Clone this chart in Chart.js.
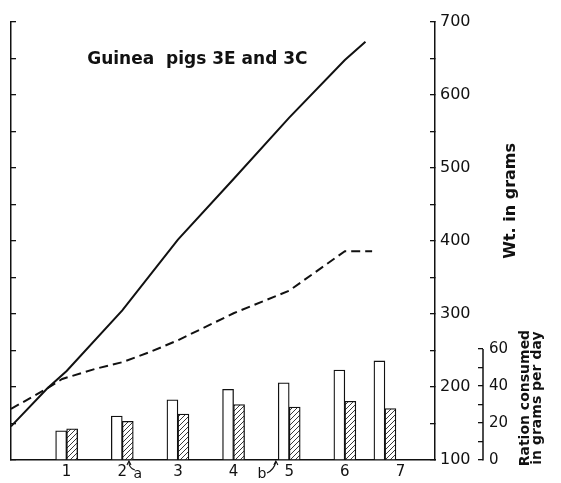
<!DOCTYPE html>
<html>
<head>
<meta charset="utf-8">
<script src="https://cdn.jsdelivr.net/npm/chart.js@4"></script>
<style>
  html, body { margin: 0; padding: 0; background: #fff; }
  #wrap { width: 561px; height: 483px; }
</style>
</head>
<body>
<div id="wrap"><canvas id="chart" width="561" height="483"></canvas></div>
<script>
// weeks on the x axis
const weekTicks = [1, 2, 3, 4, 5, 6, 7];
const barWeeks = [1, 2, 3, 4, 5, 6, 6.72];

// ration consumed, grams per day (open = 3E, hatched = 3C)
const ration3E = [15.8, 23.8, 32.6, 38.2, 41.8, 48.7, 53.6];
const ration3C = [16.9, 20.9, 24.9, 30.0, 28.7, 31.8, 27.8];

// body weight, grams
const solidWeeks = [0, 0.65, 1, 2, 3, 4, 5, 6, 6.37];
const solidWt = [146, 198, 222, 305, 402, 485, 569, 648, 673];
const dashedWeeks = [0, 0.65, 0.92, 1.52, 2, 2.5, 3, 4, 5, 6, 6.49];
const dashedWt = [170, 198, 211, 225, 234, 248, 264, 301, 332, 386, 386];

const wtTicks = [100, 150, 200, 250, 300, 350, 400, 450, 500, 550, 600, 650, 700];
const rationTicks = [0, 10, 20, 30, 40, 50, 60];

const noteLabels = ['a', 'b'];
const noteAt = [2.28, 4.51];
const noteArrow = [2.12, 4.76];

const pts = (xs, ys) => xs.map((x, i) => ({ x: x, y: ys[i] }));

function hatch() {
    const c = document.createElement('canvas');
    c.width = 5; c.height = 5;
    const g = c.getContext('2d');
    g.fillStyle = '#fff';
    g.fillRect(0, 0, 5, 5);
    g.strokeStyle = '#222';
    g.lineWidth = 0.9;
    g.beginPath();
    g.moveTo(0, 5); g.lineTo(5, 0);
    g.moveTo(-1, 1); g.lineTo(1, -1);
    g.moveTo(4, 6); g.lineTo(6, 4);
    g.stroke();
    return g.createPattern(c, 'repeat');
}

function vtext(ctx, str, cx, cy) {
    ctx.save();
    ctx.translate(cx, cy);
    ctx.rotate(-Math.PI / 2);
    ctx.fillText(str, 0, 0);
    ctx.restore();
}

const extras = {
    id: 'extras',
    afterDraw(chart) {
        const { ctx } = chart;
        const { x, y, y2 } = chart.scales;
        ctx.save();
        ctx.fillStyle = '#111';
        ctx.strokeStyle = '#111';

        // ration axis only runs 0..60
        ctx.lineWidth = 1.5;
        ctx.beginPath();
        ctx.moveTo(Math.round(y2.left), y2.getPixelForValue(0) + 0.5);
        ctx.lineTo(Math.round(y2.left), y2.getPixelForValue(60));
        ctx.stroke();

        ctx.textAlign = 'center';
        ctx.textBaseline = 'middle';
        ctx.font = 'bold 17px "DejaVu Sans"';
        ctx.fillText('Guinea  pigs 3E and 3C', x.getPixelForValue(3.35), y.getPixelForValue(648));

        ctx.font = 'bold 16px "DejaVu Sans"';
        vtext(ctx, 'Wt. in grams', y2.left + 28, y.getPixelForValue(455));
        ctx.font = 'bold 14px "DejaVu Sans"';
        vtext(ctx, 'Ration consumed', y2.left + 42, y2.getPixelForValue(33.5));
        vtext(ctx, 'in grams per day', y2.left + 54, y2.getPixelForValue(33.5));

        // a / b markers under the axis
        const base = y.getPixelForValue(100);
        ctx.font = '14px "DejaVu Sans"';
        ctx.lineWidth = 1.1;
        noteLabels.forEach((lab, i) => {
            const tx = x.getPixelForValue(noteAt[i]);
            const ax = x.getPixelForValue(noteArrow[i]);
            ctx.fillText(lab, tx, base + 14);
            ctx.beginPath();
            if (ax < tx) {
                ctx.moveTo(tx - 3, base + 10);
                ctx.quadraticCurveTo(ax, base + 8, ax, base + 2);
            } else {
                ctx.moveTo(tx + 5, base + 13);
                ctx.quadraticCurveTo(ax - 2, base + 10, ax, base + 2);
            }
            ctx.stroke();
            ctx.beginPath();
            ctx.moveTo(ax - 2, base + 5);
            ctx.lineTo(ax, base + 1);
            ctx.lineTo(ax + 2, base + 5);
            ctx.stroke();
        });
        ctx.restore();
    }
};

Chart.defaults.font.family = '"DejaVu Sans"';
Chart.defaults.color = '#111';

const ctx = document.getElementById('chart').getContext('2d');
new Chart(ctx, {
    type: 'bar',
    data: {
        datasets: [
            {
                type: 'line',
                label: '3E weight',
                data: pts(solidWeeks, solidWt),
                yAxisID: 'y',
                borderColor: '#111',
                borderWidth: 2,
                pointRadius: 0,
                tension: 0,
                fill: false
            },
            {
                type: 'line',
                label: '3C weight',
                data: pts(dashedWeeks, dashedWt),
                yAxisID: 'y',
                borderColor: '#111',
                borderWidth: 2,
                borderDash: [9, 5],
                pointRadius: 0,
                tension: 0,
                fill: false
            },
            {
                label: '3E ration',
                data: pts(barWeeks, ration3E),
                yAxisID: 'y2',
                backgroundColor: '#fff',
                borderColor: '#111',
                borderWidth: 1.3,
                barThickness: 11
            },
            {
                label: '3C ration',
                data: pts(barWeeks, ration3C),
                yAxisID: 'y2',
                backgroundColor: hatch(),
                borderColor: '#111',
                borderWidth: 1.3,
                barThickness: 11
            }
        ]
    },
    options: {
        responsive: false,
        animation: false,
        layout: { padding: { left: 10, top: 22, right: 0, bottom: 0 } },
        plugins: { legend: { display: false }, tooltip: { enabled: false } },
        scales: {
            x: {
                type: 'linear',
                min: 0,
                max: 7.62,
                offset: false,
                afterBuildTicks: s => { s.ticks = weekTicks.map(v => ({ value: v })); },
                grid: { drawOnChartArea: false, drawTicks: false, offset: false },
                border: { color: '#111', width: 1.5 },
                ticks: { font: { size: 15 }, padding: 3, maxRotation: 0, autoSkip: false },
                afterFit: s => { s.height = 23; }
            },
            y: {
                position: 'right',
                min: 100,
                max: 700,
                weight: 0,
                afterBuildTicks: s => { s.ticks = wtTicks.map(v => ({ value: v })); },
                ticks: { callback: v => (v % 100 === 0 ? v : ''), padding: 10, font: { size: 16 }, autoSkip: false },
                grid: { drawOnChartArea: false, tickLength: -5, color: '#111', lineWidth: 1.3 },
                border: { color: '#111', width: 1.5 },
                afterFit: s => { s.width = 48; }
            },
            yl: {
                position: 'left',
                min: 100,
                max: 700,
                afterBuildTicks: s => { s.ticks = wtTicks.map(v => ({ value: v })); },
                ticks: { display: false },
                grid: { drawOnChartArea: false, tickLength: -5, color: '#111', lineWidth: 1.3 },
                border: { color: '#111', width: 1.5 },
                afterFit: s => { s.width = 1; }
            },
            y2: {
                position: 'right',
                min: 0,
                max: 237,
                weight: 1,
                afterBuildTicks: s => { s.ticks = rationTicks.map(v => ({ value: v })); },
                ticks: { callback: v => (v % 20 === 0 ? v : ''), padding: 11, font: { size: 15 }, autoSkip: false },
                grid: { drawOnChartArea: false, tickLength: -5, color: '#111', lineWidth: 1.3 },
                border: { display: false },
                afterFit: s => { s.width = 78; }
            }
        }
    },
    plugins: [extras]
});
</script>
</body>
</html>
